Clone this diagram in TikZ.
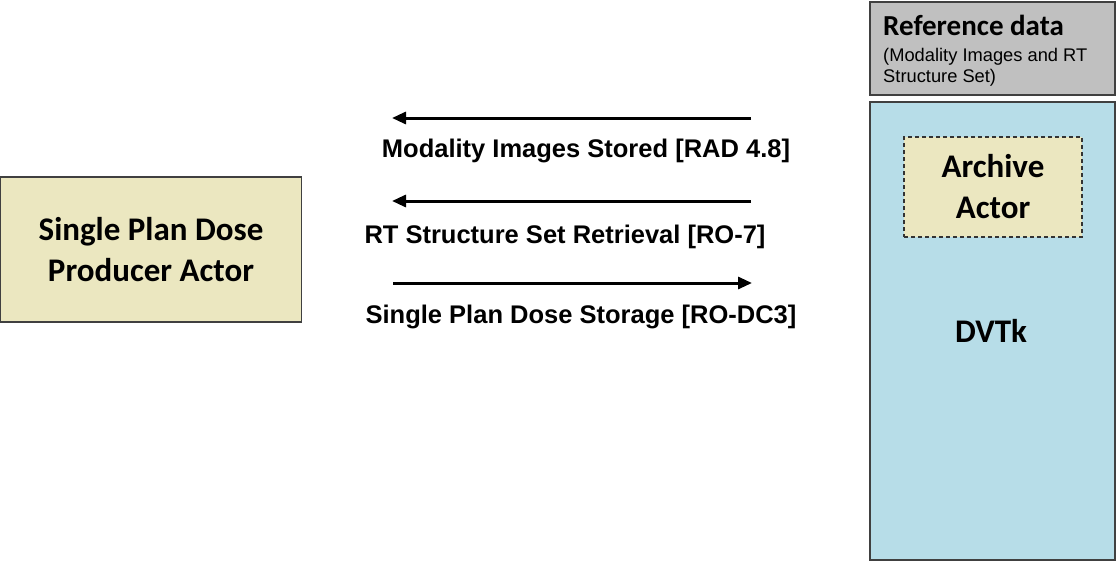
\documentclass[tikz,border=0pt]{standalone}
\usepackage{fontspec}
\setmainfont{Carlito}
\newfontfamily\arialfont{Liberation Sans}
\usetikzlibrary{arrows.meta}
\definecolor{khaki}{HTML}{EBE7C0}
\definecolor{dvtkblue}{HTML}{B7DDE8}
\definecolor{refgray}{HTML}{C0C0C0}
\definecolor{edge}{HTML}{404040}
\tikzset{
  box/.style={draw=edge, line width=1.2pt, anchor=north west, inner sep=0pt, outer sep=0pt},
  actortext/.style={font=\bfseries\fontsize{33}{41}\selectfont, align=center},
  msg/.style={line width=3pt, -{Triangle[length=14pt,width=12pt]}},
  msglabel/.style={font=\arialfont\bfseries\fontsize{25.5}{30}\selectfont}
}
\begin{document}
\begin{tikzpicture}[x=1pt,y=-1pt]
\useasboundingbox (0,0) rectangle (1117,562);
% left actor
\node[box, fill=khaki, minimum width=301pt, minimum height=145pt] (prod) at (0.6,177) {};
\node[actortext] (prodtxt) at (151,250) {Single Plan Dose\\Producer Actor};
% reference data box
\node[box, fill=refgray, minimum width=245pt, minimum height=93pt] (ref) at (870,2) {};
\node[anchor=base west, font=\bfseries\fontsize{29}{32}\selectfont, inner sep=0pt] (reftitle) at (883,35) {Reference data};
\node[anchor=base west, font=\arialfont\fontsize{18.3}{21}\selectfont, inner sep=0pt] (refsub1) at (883,61.5) {(Modality Images and RT};
\node[anchor=base west, font=\arialfont\fontsize{18.3}{21}\selectfont, inner sep=0pt] (refsub2) at (883,82.5) {Structure Set)};
% DVTk box
\node[box, fill=dvtkblue, minimum width=245pt, minimum height=458pt] (dvtk) at (870,102) {};
\node[box, fill=khaki, draw=black!80, line width=1.4pt, dash pattern=on 4pt off 3pt, minimum width=178pt, minimum height=100pt] (archive) at (904,137) {};
\node[actortext] (archtxt) at (993,187) {Archive\\Actor};
\node[font=\bfseries\fontsize{33}{38}\selectfont] (dvtktxt) at (991,331) {DVTk};
% messages
\coordinate (a1s) at (751,118); \coordinate (a1e) at (392,118);
\coordinate (a2s) at (751,201); \coordinate (a2e) at (392,201);
\coordinate (a3s) at (393,283); \coordinate (a3e) at (752,283);
\draw[msg] (a1s) -- (a1e);
\draw[msg] (a2s) -- (a2e);
\draw[msg] (a3s) -- (a3e);
\node[msglabel] (l1) at (586,151) {Modality Images Stored [RAD 4.8]};
\node[msglabel] (l2) at (565,237) {RT Structure Set Retrieval [RO-7]};
\node[msglabel] (l3) at (581,317) {Single Plan Dose Storage [RO-DC3]};
\end{tikzpicture}
\end{document}
